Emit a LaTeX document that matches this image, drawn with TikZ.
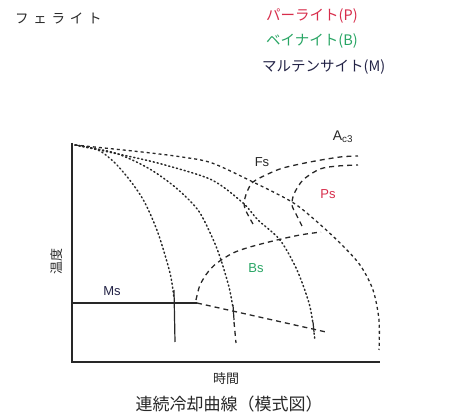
\documentclass[tikz,border=0pt]{standalone}
\usepackage{fontspec}
\setmainfont{Liberation Sans}
\newfontfamily\jp{Noto Sans CJK JP}
\newfontfamily\jpw[LetterSpace=35]{Noto Sans CJK JP}
\definecolor{pred}{RGB}{215,45,75}
\definecolor{bgreen}{RGB}{40,165,100}
\definecolor{mnavy}{RGB}{35,35,70}
\definecolor{ink}{RGB}{40,40,40}
\begin{document}
\begin{tikzpicture}[x=1pt,y=-1pt,
  axis/.style={line width=1.2pt,ink},
  dotline/.style={line width=1.5pt,ink,dash pattern=on 1.2pt off 2.8pt,line cap=round},
  shortdash/.style={line width=1.3pt,ink,dash pattern=on 3pt off 3pt},
  longdash/.style={line width=1.3pt,ink,dash pattern=on 5pt off 4pt},
  solidtick/.style={line width=1.2pt,ink},
  lbl/.style={font=\fontsize{13}{13}\selectfont,inner sep=0pt},
  jlbl/.style={font=\jp\fontsize{14.5}{14.5}\selectfont,inner sep=0pt,anchor=west}]
\useasboundingbox (0,0) rectangle (453,419);
% axes
\coordinate (o) at (72,362);
\coordinate (ytop) at (72,143);
\coordinate (xend) at (380,362);
\draw[axis] (ytop) -- (o) -- (xend);
% cooling curves
\draw[dotline] plot[smooth] coordinates {(75,145) (98,150) (115,163) (132,183) (145,203) (158,233) (170,273) (174,298)};
\draw[solidtick] (174,290) -- (175,342);
\draw[dotline] plot[smooth] coordinates {(75,145) (115,153) (148,168) (175,187) (198,210) (212,237) (220,257) (229,287) (233,308)};
\draw[solidtick] (233,305) -- (234,320);
\draw[longdash] (234,322) -- (236,343);
\draw[dotline] plot[smooth] coordinates {(75,145) (132,157) (165,165) (212,180) (243,203) (258,220) (280,240) (297,270) (309,303) (313,324)};
\draw[solidtick] (313,322) -- (314,332);
\draw[dotline] (314,333) -- (315,340);
\draw[shortdash] plot[smooth] coordinates {(75,145) (142,152) (182,157) (212,163) (253,182) (292,202) (315,220) (340,243) (360,265) (373,290) (379,320) (379,350)};
% Fs
\draw[longdash] plot[smooth] coordinates {(253,224) (246,211) (244,203) (247,192) (253,182) (268,174) (283,168) (310,162) (340,157) (358,156)};
% Ps
\draw[longdash] plot[smooth] coordinates {(302,226) (296,214) (292,205) (294,194) (303,180) (320,169) (338,166) (358,165)};
% Bs
\draw[longdash] plot[smooth] coordinates {(196,300) (200,285) (208,272) (217,263) (233,253) (250,247) (277,240) (300,235) (321,232)};
% Ms
\coordinate (ms0) at (72,303);
\coordinate (ms1) at (197,303);
\coordinate (ms2) at (326,332);
\draw[axis] (ms0) -- (ms1);
\draw[longdash] (ms1) -- (ms2);
% labels
\node[lbl,mnavy] (lms) at (112,291) {Ms};
\node[lbl,bgreen] (lbs) at (256,268) {Bs};
\node[lbl,pred] (lps) at (328,194) {Ps};
\node[lbl,ink] (lfs) at (262,162) {Fs};
\node[lbl,ink,font=\fontsize{14}{14}\selectfont] (lac) at (343,137) {A\textsubscript{c3}};
\node[font=\jp\fontsize{13}{13}\selectfont,rotate=90,ink] (ylab) at (57,262) {温度};
\node[font=\jp\fontsize{13}{13}\selectfont,ink] (xlab) at (226,379) {時間};
\node[font=\jp\fontsize{17}{17}\selectfont,ink] (cap) at (229,404) {連続冷却曲線（模式図）};
\node[font=\jpw\fontsize{13.5}{13.5}\selectfont,inner sep=0pt,anchor=west,ink] (ferr) at (15,18) {フェライト};
\node[jlbl,pred] (perl) at (266,16) {パーライト(P)};
\node[jlbl,bgreen] (bain) at (266,41) {ベイナイト(B)};
\node[jlbl,mnavy] (mart) at (262,67) {マルテンサイト(M)};
\end{tikzpicture}
\end{document}
